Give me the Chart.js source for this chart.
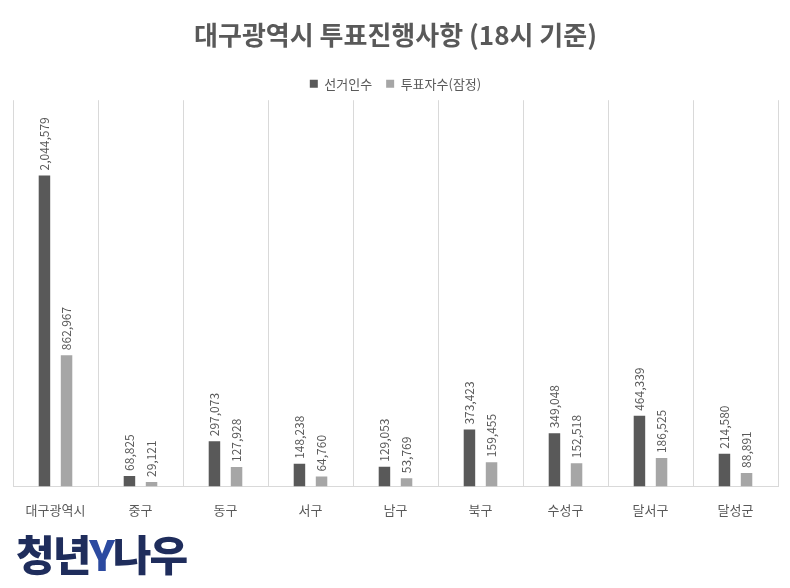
<!DOCTYPE html>
<html><head><meta charset="utf-8">
<script src="https://cdn.jsdelivr.net/npm/chart.js@4"></script>
<style>
body{margin:0;background:#fff;font-family:"Noto Sans CJK KR","Noto Sans",sans-serif}
#wrap{position:relative;width:790px;height:588px}
#logo{position:absolute;left:16px;top:528px;font-size:42px;font-weight:900;color:#1f2d5c;letter-spacing:-2px;line-height:50px}
#logo span{color:#2c4aa0}
</style></head>
<body><div id="wrap"><canvas id="c" width="790" height="588"></canvas>
<div id="logo">청년<span>Y</span>나우</div></div>
<script>
// data
var districts = ['대구광역시', '중구', '동구', '서구', '남구', '북구', '수성구', '달서구', '달성군'];
var voters = [2044579, 68825, 297073, 148238, 129053, 373423, 349048, 464339, 214580];
var turnout = [862967, 29121, 127928, 64760, 53769, 159455, 152518, 186525, 88891];

var valueLabels = {
    id: 'valueLabels',
    afterDatasetsDraw: function(chart) {
        var ctx = chart.ctx;
        ctx.save();
        ctx.fillStyle = '#595959';
        ctx.font = '12px "Noto Sans CJK KR", sans-serif';
        ctx.textBaseline = 'middle';
        chart.data.datasets.forEach(function(ds, i) {
            chart.getDatasetMeta(i).data.forEach(function(bar, j) {
                ctx.save();
                ctx.translate(bar.x, bar.y - 5);
                ctx.rotate(-Math.PI / 2);
                ctx.fillText(ds.data[j].toLocaleString('en-US'), 0, 0);
                ctx.restore();
            });
        });
        ctx.restore();
    }
};

new Chart(document.getElementById('c'), {
    type: 'bar',
    data: {
        labels: districts,
        datasets: [
            {label: '선거인수', data: voters, backgroundColor: '#595959', categoryPercentage: 0.52, barPercentage: 0.52},
            {label: '투표자수(잠정)', data: turnout, backgroundColor: '#a6a6a6', categoryPercentage: 0.52, barPercentage: 0.52}
        ]
    },
    options: {
        responsive: false,
        animation: false,
        layout: {padding: {left: 13, right: 12, top: 10, bottom: 54}},
        plugins: {
            title: {display: true, text: '대구광역시 투표진행사항 (18시 기준)', color: '#595959',
                font: {size: 26, weight: 'bold', family: '"Noto Sans CJK KR"'}, padding: {top: 10, bottom: 12}},
            legend: {labels: {boxWidth: 8, boxHeight: 8, color: '#595959', padding: 14, font: {size: 13, family: '"Noto Sans CJK KR"'}}},
            tooltip: {enabled: false}
        },
        scales: {
            x: {
                grid: {offset: true, color: '#d9d9d9', drawTicks: false},
                border: {color: '#d9d9d9'},
                ticks: {color: '#595959', padding: 16, font: {size: 13, family: '"Noto Sans CJK KR"'}}
            },
            y: {display: false, min: 0, max: 2540000}
        }
    },
    plugins: [valueLabels]
});
</script></body></html>
